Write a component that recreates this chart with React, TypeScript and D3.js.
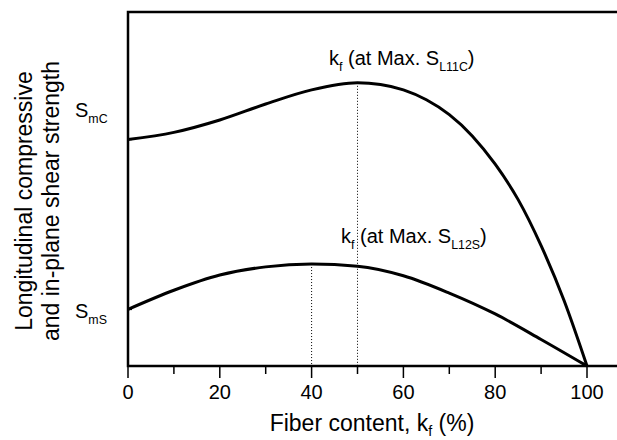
import { useEffect, useRef } from 'react'
import * as d3 from 'd3'

const FIBER = [0, 10, 20, 30, 40, 50, 55, 60, 65, 70, 75, 80, 85, 90, 95, 100]
const COMPRESSIVE = [64.0, 66.0, 69.5, 74.0, 78.0, 80.0, 79.5, 78.0, 75.2, 71.0, 65.0, 57.0, 47.0, 34.0, 18.5, 0]

const FIBER_S = [0, 10, 20, 30, 40, 50, 60, 70, 80, 90, 100]
const SHEAR = [16.0, 21.4, 25.7, 28.0, 28.8, 28.2, 25.5, 20.6, 14.7, 7.5, 0]

const MAJOR_TICKS = [0, 20, 40, 60, 80, 100]
const MINOR_TICKS = [10, 30, 50, 70, 90]
const PEAK_C = 50
const PEAK_S = 40

const FONT = 'Liberation Sans, Arial, sans-serif'

export default function App() {
  const ref = useRef<SVGSVGElement>(null)

  useEffect(() => {
    if (!ref.current) return
    const width = 617
    const height = 440
    const left = 128
    const top = 12
    const bottom = 366

    const svg = d3.select(ref.current)
    svg.selectAll('*').remove()
    svg.attr('width', width).attr('height', height)

    const x = d3.scaleLinear().domain([0, 100]).range([left, 587])
    const y = d3.scaleLinear().domain([0, 100]).range([bottom, top])

    const line = d3
      .line<[number, number]>()
      .x((d) => x(d[0]))
      .y((d) => y(d[1]))
      .curve(d3.curveMonotoneX)

    // frame: left, bottom, top lines
    svg.append('path')
      .attr('d', `M${width},${top}H${left}V${bottom}H${width}`)
      .attr('fill', 'none')
      .attr('stroke', '#000')
      .attr('stroke-width', 2.5)

    MAJOR_TICKS.forEach((t) => {
      svg.append('line')
        .attr('x1', x(t)).attr('x2', x(t))
        .attr('y1', bottom).attr('y2', bottom + 12)
        .attr('stroke', '#000').attr('stroke-width', 1.5)
      svg.append('text')
        .attr('x', x(t)).attr('y', 399)
        .attr('text-anchor', 'middle')
        .attr('font-family', FONT).attr('font-size', 20)
        .text(t)
    })
    MINOR_TICKS.forEach((t) => {
      svg.append('line')
        .attr('x1', x(t)).attr('x2', x(t))
        .attr('y1', bottom).attr('y2', bottom + 8)
        .attr('stroke', '#000').attr('stroke-width', 1.5)
    })

    // small marks on y axis at matrix strengths
    ;[COMPRESSIVE[0], SHEAR[0]].forEach((v) => {
      svg.append('line')
        .attr('x1', left).attr('x2', left + 4)
        .attr('y1', y(v)).attr('y2', y(v))
        .attr('stroke', '#000').attr('stroke-width', 1.5)
    })

    // dotted guides to the maxima
    const cMax = COMPRESSIVE[FIBER.indexOf(PEAK_C)]
    const sMax = SHEAR[FIBER_S.indexOf(PEAK_S)]
    ;[[PEAK_C, cMax], [PEAK_S, sMax]].forEach(([k, v]) => {
      svg.append('line')
        .attr('x1', x(k)).attr('x2', x(k))
        .attr('y1', y(v)).attr('y2', bottom)
        .attr('stroke', '#000').attr('stroke-width', 1)
        .attr('stroke-dasharray', '1,2')
    })

    svg.append('path')
      .datum(FIBER.map((k, i) => [k, COMPRESSIVE[i]] as [number, number]))
      .attr('d', line)
      .attr('fill', 'none').attr('stroke', '#000').attr('stroke-width', 3)

    svg.append('path')
      .datum(FIBER_S.map((k, i) => [k, SHEAR[i]] as [number, number]))
      .attr('d', line)
      .attr('fill', 'none').attr('stroke', '#000').attr('stroke-width', 3)

    const subText = (
      px: number, py: number, parts: [string, boolean][], size: number, anchor = 'start', shift = 0.3
    ) => {
      const t = svg.append('text')
        .attr('x', px).attr('y', py)
        .attr('font-family', FONT).attr('font-size', size)
        .attr('text-anchor', anchor)
      let sub = false
      parts.forEach(([s, isSub]) => {
        const dy = isSub && !sub ? size * shift : !isSub && sub ? -size * shift : 0
        t.append('tspan')
          .attr('dy', dy)
          .attr('font-size', isSub ? size * 0.62 : size)
          .text(s)
        sub = isSub
      })
    }

    subText(75, 117, [['S', false], ['mC', true]], 20)
    subText(75, 318, [['S', false], ['mS', true]], 20)
    subText(329, 65, [['k', false], ['f', true], [' (at Max. S', false], ['L11C', true], [')', false]], 20)
    subText(341, 243, [['k', false], ['f', true], [' (at Max. S', false], ['L12S', true], [')', false]], 20)
    subText(372, 431, [['Fiber content, k', false], ['f', true], [' (%)', false]], 23, 'middle', 0.22)

    const yTitle = svg.append('g').attr('transform', 'translate(0,201) rotate(-90)')
    yTitle.append('text')
      .attr('x', 0).attr('y', 32)
      .attr('text-anchor', 'middle')
      .attr('font-family', FONT).attr('font-size', 23)
      .text('Longitudinal compressive')
    yTitle.append('text')
      .attr('x', 0).attr('y', 59)
      .attr('text-anchor', 'middle')
      .attr('font-family', FONT).attr('font-size', 23)
      .text('and in-plane shear strength')
  }, [])

  return (
    <svg ref={ref} style={{ position: 'absolute', left: 0, top: 0, background: '#fff' }} />
  )
}
